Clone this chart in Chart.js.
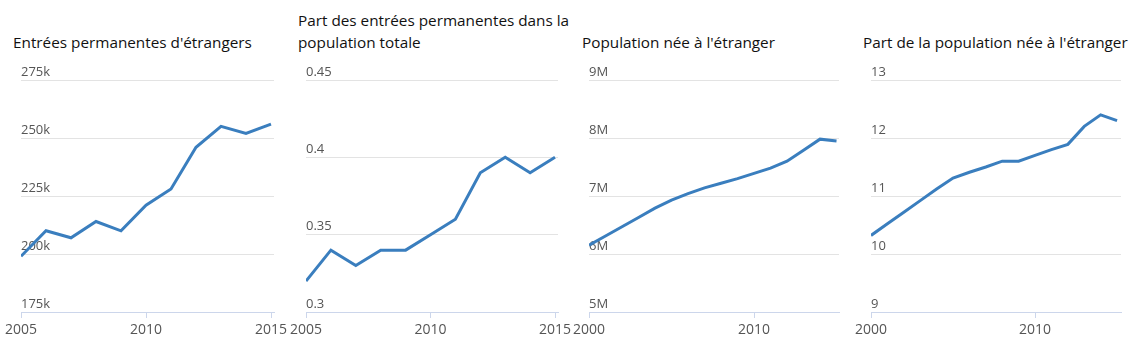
<!DOCTYPE html>
<html>
<head>
<meta charset="utf-8">
<script src="https://cdn.jsdelivr.net/npm/chart.js@4"></script>
<style>
  body { margin: 0; background: #fff; }
  #wrap { position: relative; width: 1137px; height: 348px; overflow: hidden; }
  .panel { position: absolute; top: 0; height: 348px; }
  .title { position: absolute; font-family: 'Open Sans', sans-serif; font-size: 15.3px; line-height: 22px; color: #111; white-space: nowrap; }
</style>
</head>
<body>
<div id="wrap"></div>
<script>
// Données
const titles = [
  "Entrées permanentes d'étrangers",
  'Part des entrées permanentes dans la\npopulation totale',
  "Population née à l'étranger",
  "Part de la population née à l'étranger"
];
const yearsA = [2005, 2006, 2007, 2008, 2009, 2010, 2011, 2012, 2013, 2014, 2015];
const yearsB = [2000, 2001, 2002, 2003, 2004, 2005, 2006, 2007, 2008, 2009, 2010, 2011, 2012, 2013, 2014, 2015];
const entrees = [199000, 210000, 207000, 214000, 210000, 221000, 228000, 246000, 255000, 252000, 256000];
const partEntrees = [0.32, 0.34, 0.33, 0.34, 0.34, 0.35, 0.36, 0.39, 0.40, 0.39, 0.40];
const popNee = [6.15, 6.31, 6.47, 6.63, 6.79, 6.93, 7.04, 7.14, 7.22, 7.30, 7.39, 7.48, 7.60, 7.79, 7.98, 7.95];
const partPopNee = [10.32, 10.52, 10.72, 10.92, 11.12, 11.31, 11.41, 11.50, 11.60, 11.60, 11.70, 11.80, 11.89, 12.20, 12.40, 12.30];
const yTicks1 = [175000, 275000, 25000];
const yTicks2 = [0.3, 0.45, 0.05];
const yTicks3 = [5, 9, 1];
const yTicks4 = [9, 13, 1];

const panels = [
  { title: titles[0], years: yearsA, values: entrees, yr: yTicks1, xMin: 2005, xMax: 2015.12, xStep: 5,
    fmt: v => Math.round(v / 1000) + 'k', plotLeft: 21, plotRight: 274, titleLeft: 13 },
  { title: titles[1], years: yearsA, values: partEntrees, yr: yTicks2, xMin: 2005, xMax: 2015.12, xStep: 5,
    fmt: v => String(Math.round(v * 100) / 100), plotLeft: 306, plotRight: 558, titleLeft: 298 },
  { title: titles[2], years: yearsB, values: popNee, yr: yTicks3, xMin: 2000, xMax: 2015.15, xStep: 10,
    fmt: v => Math.round(v) + 'M', plotLeft: 589, plotRight: 839, titleLeft: 582 },
  { title: titles[3], years: yearsB, values: partPopNee, yr: yTicks4, xMin: 2000, xMax: 2015.24, xStep: 10,
    fmt: v => String(Math.round(v)), plotLeft: 871, plotRight: 1121, titleLeft: 863 }
];

const wrap = document.getElementById('wrap');
const padL = 21, padR = 22;

panels.forEach(p => {
  // titre
  const t = document.createElement('div');
  t.className = 'title';
  const lines = p.title.split('\n');
  t.innerHTML = lines.join('<br>');
  t.style.left = p.titleLeft + 'px';
  t.style.top = (lines.length > 1 ? 9 : 31) + 'px';
  wrap.appendChild(t);

  // graphique
  const box = document.createElement('div');
  box.className = 'panel';
  const w = p.plotRight - p.plotLeft + padL + padR;
  box.style.left = (p.plotLeft - padL) + 'px';
  box.style.width = w + 'px';
  const cv = document.createElement('canvas');
  box.appendChild(cv);
  wrap.appendChild(box);

  new Chart(cv, {
    type: 'line',
    data: {
      datasets: [{
        data: p.years.map((y, i) => ({ x: y, y: p.values[i] })),
        borderColor: '#3a7ebe',
        borderWidth: 3,
        pointRadius: 0,
        tension: 0,
        fill: false
      }]
    },
    options: {
      responsive: true,
      maintainAspectRatio: false,
      animation: false,
      layout: { padding: { left: padL, right: padR, top: 80, bottom: 8 } },
      plugins: { legend: { display: false }, tooltip: { enabled: false } },
      scales: {
        x: {
          type: 'linear',
          min: p.xMin,
          max: p.xMax,
          afterFit: s => { s.height = 28; },
          border: { display: true, color: '#ccd6eb', width: 1 },
          grid: { drawOnChartArea: false, drawTicks: true, tickLength: 6, color: '#ccd6eb' },
          ticks: {
            stepSize: p.xStep,
            includeBounds: false,
            autoSkip: false,
            maxRotation: 0,
            padding: 4,
            color: '#555',
            font: { family: 'Open Sans', size: 14 },
            callback: v => String(v)
          }
        },
        y: {
          min: p.yr[0],
          max: p.yr[1],
          afterFit: s => { s.width = 0; },
          border: { display: false },
          grid: { color: '#e3e3e3', drawTicks: false, lineWidth: 1 },
          ticks: {
            stepSize: p.yr[2],
            mirror: true,
            padding: 0,
            labelOffset: -8,
            color: '#555',
            font: { family: 'Open Sans', size: 13 },
            callback: p.fmt
          }
        }
      }
    }
  });
});
</script>
</body>
</html>
